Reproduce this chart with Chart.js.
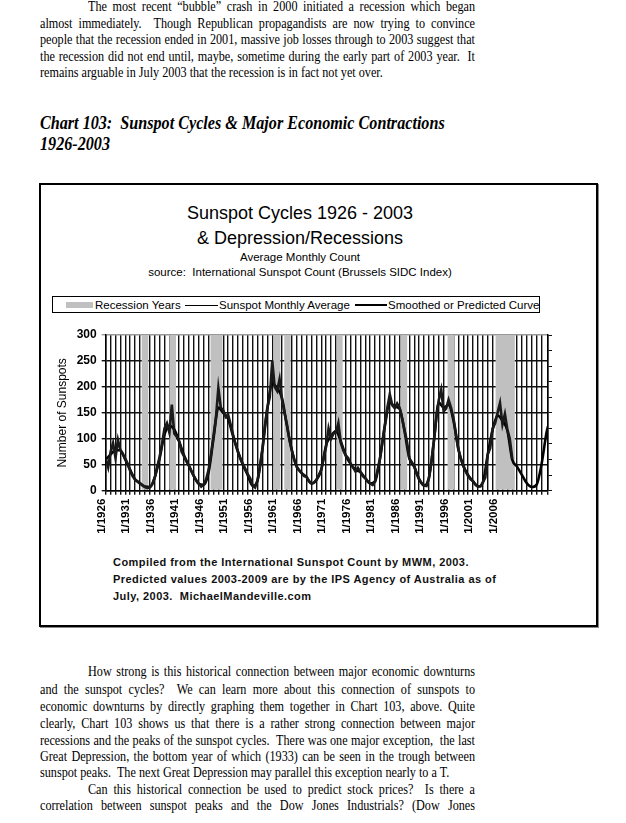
<!DOCTYPE html>
<html>
<head>
<meta charset="utf-8">
<script src="https://cdn.jsdelivr.net/npm/chart.js@4.4.0/dist/chart.umd.min.js"></script>
<style>
  body { margin: 0; background: #fff; width: 626px; height: 823px; position: relative; overflow: hidden; color: #000; }
  .ln { position: absolute; left: 40px; width: 500px; font-family: "Liberation Serif", "Times New Roman", serif; font-size: 14px; line-height: 16px; text-align: justify; text-align-last: justify; transform: scaleX(0.87); transform-origin: 0 0; }
  .ln.ind { left: 88px; width: 444.8px; }
  .ln.end { text-align-last: left; }
  .hd { position: absolute; left: 40px; font-family: "Liberation Serif", "Times New Roman", serif; font-size: 19px; line-height: 22px; font-weight: bold; font-style: italic; white-space: nowrap; transform: scaleX(0.85); transform-origin: 0 0; }
  .box { position: absolute; left: 39px; top: 183px; width: 559px; height: 444px; box-sizing: border-box; border: 2px solid #000; box-shadow: 1px 1px 0 #888; }
  .ct { position: absolute; font-family: "Liberation Sans", Arial, sans-serif; white-space: nowrap; }
  .legend { position: absolute; left: 52px; top: 296px; width: 488px; height: 17px; box-sizing: border-box; border: 1.5px solid #000; }
  .note { position: absolute; left: 113px; font-family: "Liberation Sans", Arial, sans-serif; font-weight: bold; font-size: 11px; line-height: 13px; letter-spacing: 0.45px; white-space: nowrap; color: #111; }
  #wrap { position: absolute; left: 0; top: 320px; width: 626px; height: 230px; }
</style>
</head>
<body>
<div class="ln ind" style="top:-1px">The most recent “bubble” crash in 2000 initiated a recession which began</div>
<div class="ln" style="top:15.6px">almost immediately.&nbsp; Though Republican propagandists are now trying to convince</div>
<div class="ln" style="top:32.1px">people that the recession ended in 2001, massive job losses through to 2003 suggest that</div>
<div class="ln" style="top:48.6px">the recession did not end until, maybe, sometime during the early part of 2003 year.&nbsp; It</div>
<div class="ln end" style="top:65.1px">remains arguable in July 2003 that the recession is in fact not yet over.</div>

<div class="hd" style="top:112px">Chart 103:&nbsp; Sunspot Cycles &amp; Major Economic Contractions</div>
<div class="hd" style="top:132.6px">1926-2003</div>

<div class="box"></div>
<div class="ct" style="left:100px;width:400px;text-align:center;top:203px;font-size:18px;line-height:20px">Sunspot Cycles 1926 - 2003</div>
<div class="ct" style="left:100px;width:400px;text-align:center;top:228px;font-size:18px;line-height:20px">&amp; Depression/Recessions</div>
<div class="ct" style="left:100px;width:400px;text-align:center;top:250.5px;font-size:11.5px;line-height:13px">Average Monthly Count</div>
<div class="ct" style="left:100px;width:400px;text-align:center;top:265.5px;font-size:11.5px;line-height:13px">source:&nbsp; International Sunspot Count (Brussels SIDC Index)</div>

<div class="legend"></div>
<div style="position:absolute;left:66px;top:302px;width:27px;height:6px;background:#c0c0c0"></div>
<div class="ct" style="left:95px;top:298.5px;font-size:11.5px;line-height:13px">Recession Years</div>
<div style="position:absolute;left:185px;top:304.5px;width:33px;height:1px;background:#000"></div>
<div class="ct" style="left:219px;top:298.5px;font-size:11.5px;line-height:13px">Sunspot Monthly Average</div>
<div style="position:absolute;left:355px;top:303.5px;width:32px;height:2.5px;background:#000"></div>
<div class="ct" style="left:388px;top:298.5px;font-size:11.5px;line-height:13px">Smoothed or Predicted Curve</div>

<div id="wrap"><canvas id="sunspotChart"></canvas></div>

<div class="note" style="top:555.7px">Compiled from the International Sunspot Count by MWM, 2003.</div>
<div class="note" style="top:572.7px">Predicted values 2003-2009 are by the IPS Agency of Australia as of</div>
<div class="note" style="top:589.7px">July, 2003.&nbsp; MichaelMandeville.com</div>

<div class="ln ind" style="top:664.3px">How strong is this historical connection between major economic downturns</div>
<div class="ln" style="top:682.3px">and the sunspot cycles?&nbsp; We can learn more about this connection of sunspots to</div>
<div class="ln" style="top:699.3px">economic downturns by directly graphing them together in Chart 103, above. Quite</div>
<div class="ln" style="top:716.3px">clearly, Chart 103 shows us that there is a rather strong connection between major</div>
<div class="ln" style="top:732.8px">recessions and the peaks of the sunspot cycles.&nbsp; There was one major exception,&nbsp; the last</div>
<div class="ln" style="top:748.8px">Great Depression, the bottom year of which (1933) can be seen in the trough between</div>
<div class="ln end" style="top:765.3px">sunspot peaks.&nbsp; The next Great Depression may parallel this exception nearly to a T.</div>
<div class="ln ind" style="top:781.8px">Can this historical connection be used to predict stock prices?&nbsp; Is there a</div>
<div class="ln" style="top:798.3px">correlation between sunspot peaks and the Dow Jones Industrials? (Dow Jones</div>

<script>
// x positions are in the chart's own label years (1/1926 ... 1/2006 tick labels)
const firstYear = 1926;
const lastYear = 2016.3;
const labelYears = [1926, 1931, 1936, 1941, 1946, 1951, 1956, 1961, 1966, 1971, 1976, 1981, 1986, 1991, 1996, 2001, 2006];

// recession years (grey bands), start and end
const recessionStart = [1933.35, 1938.98, 1947.4, 1960.2, 1962.45, 1973.2, 1986.27, 1995.8, 2005.6];
const recessionEnd = [1934.7, 1940.35, 1949.84, 1961.67, 1963.76, 1974.37, 1987.55, 1997.14, 2009.53];

// sunspot monthly average, read every half year from 1926.0 to 2009.0
const monthlyStep = 0.5;
const monthlyAvg = [
  62, 45, 75, 92, 63, 98, 78, 70, 62, 52,
  38, 28, 21, 18, 15, 10, 7, 5, 6, 12,
  25, 45, 65, 90, 120, 130, 112, 166, 110, 104,
  95, 75, 66, 56, 48, 38, 28, 20, 14, 8,
  12, 22, 40, 70, 105, 140, 198, 160, 155, 142,
  146, 128, 108, 90, 75, 62, 52, 42, 32, 24,
  10, 6, 20, 48, 80, 125, 160, 180, 250, 200,
  192, 215, 175, 150, 128, 98, 78, 60, 46, 40,
  34, 28, 27, 18, 14, 15, 21, 30, 40, 62,
  85, 120, 100, 110, 112, 130, 92, 78, 68, 63,
  52, 45, 37, 44, 36, 28, 24, 18, 14, 11,
  18, 40, 62, 95, 127, 160, 186, 165, 159, 168,
  160, 140, 118, 95, 62, 55, 47, 32, 22, 15,
  10, 9, 25, 55, 96, 140, 175, 195, 153, 158,
  175, 160, 140, 110, 80, 62, 48, 37, 28, 22,
  18, 12, 8, 8, 16, 25, 70, 82, 120, 130,
  150, 169, 128, 148, 118, 100, 62
];

// smoothed or predicted curve, one value per label year from 1926 to 2016
const smoothed = [
  60, 70, 78, 78, 60, 40, 22, 14, 8, 7,
  25, 62, 108, 125, 118, 95, 68, 48, 28, 13,
  11, 35, 100, 160, 150, 138, 105, 75, 50, 30,
  9, 20, 80, 158, 205, 198, 178, 125, 78, 46,
  34, 26, 14, 20, 40, 88, 105, 115, 95, 68,
  52, 40, 36, 24, 14, 18, 62, 125, 170, 162,
  158, 115, 62, 46, 22, 10, 25, 95, 170, 160,
  165, 135, 80, 48, 30, 18, 8, 16, 70, 118,
  145, 135, 116, 60, 46, 30, 14, 7, 12, 52,
  112
];
const smoothedEnd = 124; // value at the right edge of the plot

const monthlyPoints = monthlyAvg.map((v, i) => ({ x: firstYear + i * monthlyStep, y: v }));
const smoothPoints = smoothed.map((v, i) => ({ x: firstYear + i, y: v }));
smoothPoints.push({ x: lastYear, y: smoothedEnd });

Chart.defaults.font.family = '"Liberation Sans", Arial, sans-serif';
Chart.defaults.color = '#000';

// grey recession bands, drawn over the grid but under the lines
const recessionBands = {
  id: 'recessionBands',
  beforeDatasetsDraw(chart) {
    const { ctx, scales: { x, y } } = chart;
    const top = y.getPixelForValue(300);
    const bottom = y.getPixelForValue(0) - 1;
    ctx.save();
    ctx.fillStyle = '#c0c0c0';
    recessionStart.forEach((s, i) => {
      const x0 = x.getPixelForValue(s);
      const x1 = x.getPixelForValue(recessionEnd[i]);
      ctx.fillRect(x0, top, x1 - x0, bottom - top);
    });
    ctx.restore();
  }
};

new Chart(document.getElementById('sunspotChart'), {
  type: 'line',
  data: {
    datasets: [
      {
        label: 'Sunspot Monthly Average',
        data: monthlyPoints,
        borderColor: '#1a1a1a',
        borderWidth: 2.6,
        pointRadius: 0,
        tension: 0
      },
      {
        label: 'Smoothed or Predicted Curve',
        data: smoothPoints,
        borderColor: '#000',
        borderWidth: 2.6,
        pointRadius: 0,
        cubicInterpolationMode: 'monotone'
      }
    ]
  },
  options: {
    responsive: true,
    maintainAspectRatio: false,
    animation: false,
    layout: { padding: { top: 15, left: 0, right: 0, bottom: 0 } },
    plugins: {
      legend: { display: false },
      tooltip: { enabled: false }
    },
    scales: {
      x: {
        type: 'linear',
        min: firstYear,
        max: lastYear,
        afterFit: s => { s.height = 59.3; },
        border: { color: '#000', width: 1.5 },
        grid: { color: '#111', lineWidth: 1.4, tickLength: 4, tickColor: '#111' },
        ticks: {
          stepSize: 1,
          autoSkip: false,
          minRotation: 90,
          maxRotation: 90,
          padding: 4,
          labelOffset: -4,
          font: { size: 11.5, weight: 'bold' },
          callback: v => {
            const yr = Math.round(v);
            return labelYears.includes(yr) && Math.abs(v - yr) < 0.01 ? '1/' + yr : '';
          }
        }
      },
      y: {
        min: 0,
        max: 300,
        position: 'left',
        afterFit: s => { s.width = 105.7; },
        border: { color: '#000', width: 1.5 },
        grid: {
          color: c => (c.tick && c.tick.value === 300 ? '#999' : '#111'),
          lineWidth: 1.4,
          tickLength: 4
        },
        ticks: { stepSize: 50, padding: 5, font: { size: 12, weight: 'bold' } },
        title: { display: true, text: 'Number of Sunspots', font: { size: 12 }, padding: { top: 55 } }
      },
      y2: {
        min: 0,
        max: 300,
        position: 'right',
        afterFit: s => { s.width = 78; },
        border: { color: '#000', width: 1.5 },
        grid: { drawOnChartArea: false, tickLength: 4, color: '#111' },
        ticks: { display: false, stepSize: 30 }
      }
    }
  },
  plugins: [recessionBands]
});
</script>
</body>
</html>
